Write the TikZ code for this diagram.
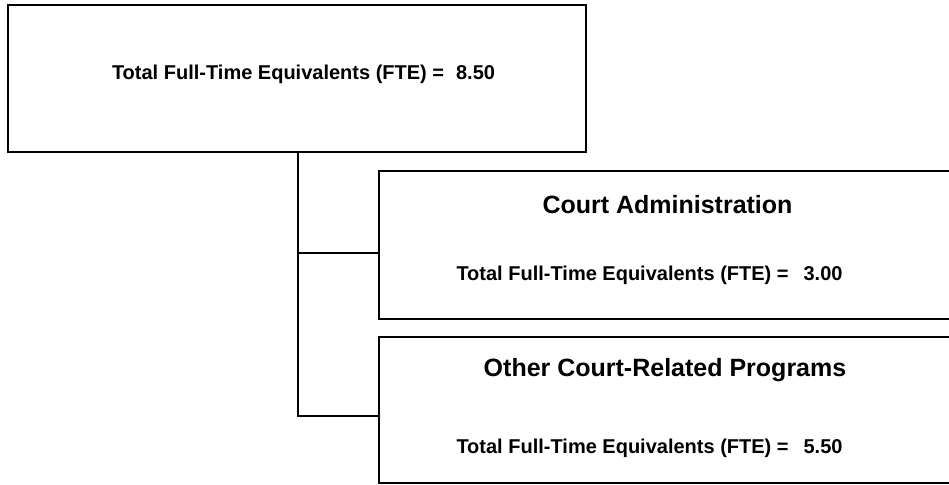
\documentclass[tikz,border=0pt]{standalone}
\usepackage{fontspec}
\setmainfont{Liberation Sans}

\begin{document}
\begin{tikzpicture}[x=1pt, y=-1pt, line width=2.8pt,
    box/.style={draw, rectangle, inner sep=0pt},
    small/.style={font=\bfseries\fontsize{20}{22}\selectfont},
    big/.style={font=\bfseries\fontsize{25}{30}\selectfont}]
    \useasboundingbox (0,0) rectangle (949,484);
    \clip (0,0) rectangle (949,484);

    % 顶部总计方框
    \node[box, minimum width=578pt, minimum height=147pt] (total) at (297,78.5) {};
    \node[small] (totaltext) at (303.5,74) {Total Full-Time Equivalents (FTE) =\hspace{12pt}8.50};

    % 法院行政方框 (右侧超出画面)
    \node[box, minimum width=576pt, minimum height=148pt] (admin) at (667,245) {};
    \node[big] (admintitle) at (667.5,205) {Court Administration};
    \node[small] (admintext) at (649.5,275) {Total Full-Time Equivalents (FTE) =\hspace{15pt}3.00};

    % 其他法院相关项目方框
    \node[box, minimum width=576pt, minimum height=146pt] (other) at (667,410) {};
    \node[big] (othertitle) at (665,370) {Other Court-Related Programs};
    \node[small] (othertext) at (649.5,448) {Total Full-Time Equivalents (FTE) =\hspace{15pt}5.50};

    % 连接线
    \draw ([xshift=1pt]total.south) |- ([yshift=-8pt]admin.west);
    \draw ([xshift=1pt]total.south) |- ([yshift=-6pt]other.west);

\end{tikzpicture}
\end{document}
